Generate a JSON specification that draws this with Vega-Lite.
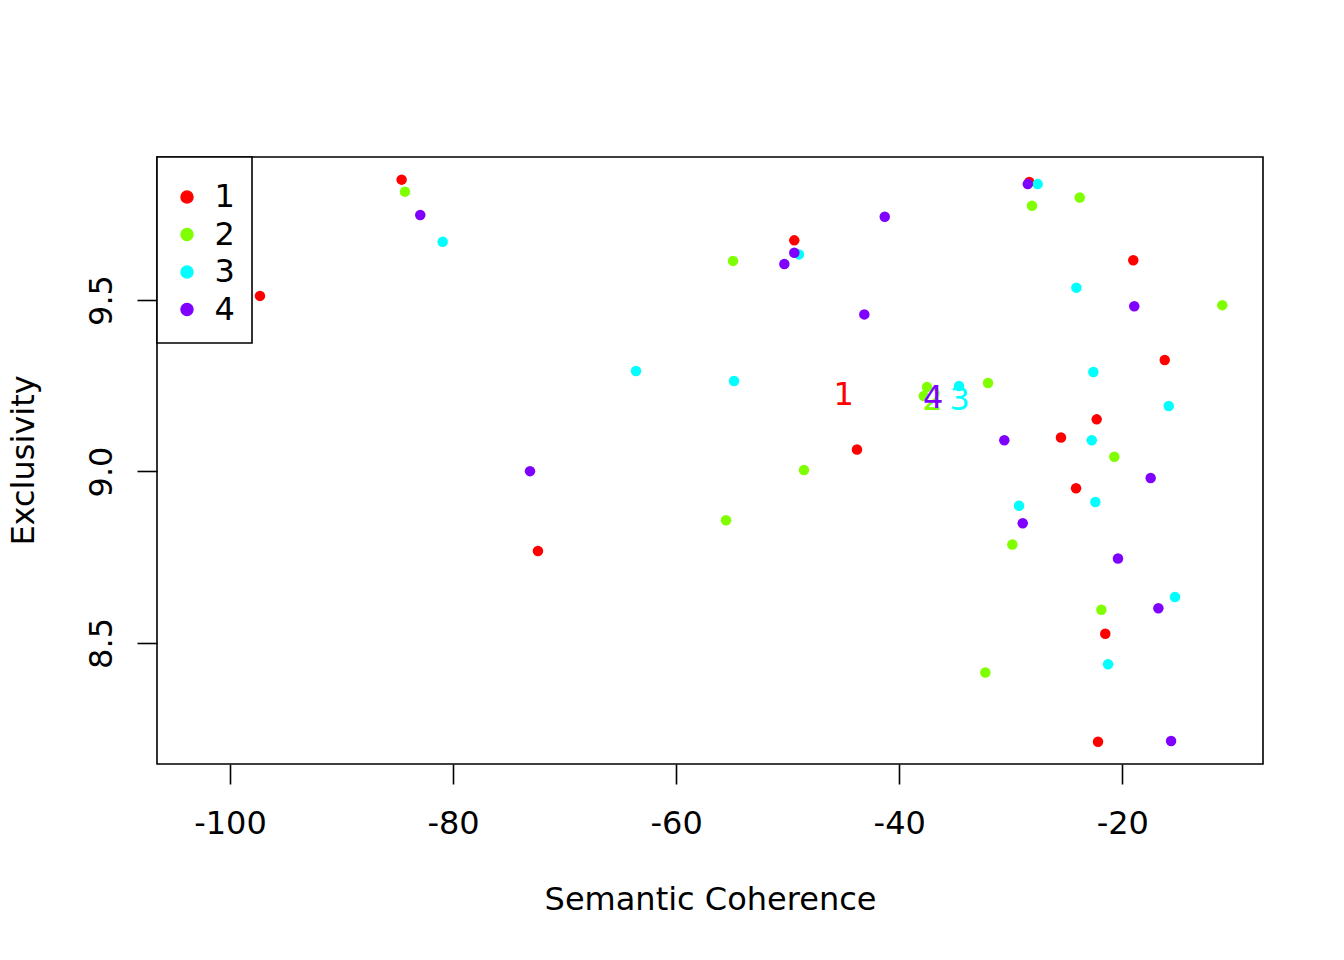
{
  "$schema": "https://vega.github.io/schema/vega-lite/v6.json",
  "width": 1106,
  "height": 607,
  "autosize": {"type": "none"},
  "padding": {"left": 157, "top": 157, "right": 81, "bottom": 196},
  "background": "white",
  "config": {
    "view": {"stroke": "black", "strokeWidth": 1.6},
    "font": "DejaVu Sans",
    "axis": {
      "grid": false, "domain": false, "tickColor": "black", "tickWidth": 1.6, "tickSize": 20,
      "labelColor": "black", "titleColor": "black", "labelFont": "DejaVu Sans", "titleFont": "DejaVu Sans",
      "labelFontSize": 32, "titleFontSize": 32, "titleFontWeight": "normal"
    }
  },
  "data": {
    "values": [
      {"model": "1", "sc": -102.87, "ex": 9.53},
      {"model": "1", "sc": -97.31, "ex": 9.512},
      {"model": "1", "sc": -84.61, "ex": 9.851},
      {"model": "1", "sc": -72.39, "ex": 8.768},
      {"model": "1", "sc": -49.41, "ex": 9.674},
      {"model": "1", "sc": -43.79, "ex": 9.064},
      {"model": "1", "sc": -28.34, "ex": 9.844},
      {"model": "1", "sc": -19.02, "ex": 9.616},
      {"model": "1", "sc": -16.2, "ex": 9.325},
      {"model": "1", "sc": -22.3, "ex": 9.152},
      {"model": "1", "sc": -25.5, "ex": 9.099},
      {"model": "1", "sc": -24.15, "ex": 8.951},
      {"model": "1", "sc": -21.53, "ex": 8.527},
      {"model": "1", "sc": -22.18, "ex": 8.212},
      {"model": "2", "sc": -84.31, "ex": 9.816},
      {"model": "2", "sc": -54.9, "ex": 9.614},
      {"model": "2", "sc": -55.53, "ex": 8.858},
      {"model": "2", "sc": -48.54, "ex": 9.004},
      {"model": "2", "sc": -37.51, "ex": 9.246},
      {"model": "2", "sc": -37.8, "ex": 9.22},
      {"model": "2", "sc": -32.04, "ex": 9.258},
      {"model": "2", "sc": -28.1, "ex": 9.775},
      {"model": "2", "sc": -23.82, "ex": 9.799},
      {"model": "2", "sc": -11.04, "ex": 9.485},
      {"model": "2", "sc": -20.72, "ex": 9.043},
      {"model": "2", "sc": -29.86, "ex": 8.787},
      {"model": "2", "sc": -21.88, "ex": 8.597},
      {"model": "2", "sc": -32.28, "ex": 8.414},
      {"model": "3", "sc": -80.93, "ex": 9.67},
      {"model": "3", "sc": -63.6, "ex": 9.293},
      {"model": "3", "sc": -54.81, "ex": 9.264},
      {"model": "3", "sc": -48.99, "ex": 9.633},
      {"model": "3", "sc": -34.64, "ex": 9.249},
      {"model": "3", "sc": -27.59, "ex": 9.838},
      {"model": "3", "sc": -24.12, "ex": 9.536},
      {"model": "3", "sc": -22.6, "ex": 9.29},
      {"model": "3", "sc": -15.84, "ex": 9.191},
      {"model": "3", "sc": -22.74, "ex": 9.091},
      {"model": "3", "sc": -22.42, "ex": 8.911},
      {"model": "3", "sc": -29.26, "ex": 8.9},
      {"model": "3", "sc": -15.28, "ex": 8.634},
      {"model": "3", "sc": -21.28, "ex": 8.438},
      {"model": "4", "sc": -82.94, "ex": 9.748},
      {"model": "4", "sc": -73.1, "ex": 9.001},
      {"model": "4", "sc": -50.3, "ex": 9.605},
      {"model": "4", "sc": -49.41, "ex": 9.638},
      {"model": "4", "sc": -43.13, "ex": 9.458},
      {"model": "4", "sc": -41.3, "ex": 9.743},
      {"model": "4", "sc": -28.48, "ex": 9.838},
      {"model": "4", "sc": -30.58, "ex": 9.091},
      {"model": "4", "sc": -28.93, "ex": 8.849},
      {"model": "4", "sc": -18.93, "ex": 9.482},
      {"model": "4", "sc": -17.46, "ex": 8.981},
      {"model": "4", "sc": -20.39, "ex": 8.746},
      {"model": "4", "sc": -16.77, "ex": 8.601},
      {"model": "4", "sc": -15.63, "ex": 8.214}
    ]
  },
  "encoding": {
    "x": {
      "field": "sc", "type": "quantitative",
      "scale": {"domain": [-106.54, -7.39], "nice": false, "zero": false},
      "axis": {
        "title": "Semantic Coherence", "values": [-100, -80, -60, -40, -20],
        "labelExpr": "toString(datum.value)", "labelPadding": 24, "labelFlush": false, "labelOverlap": false,
        "titleX": 553, "titleY": 135, "titleBaseline": "middle", "titleAlign": "center"
      }
    },
    "y": {
      "field": "ex", "type": "quantitative",
      "scale": {"domain": [8.147, 9.917], "nice": false, "zero": false},
      "axis": {
        "title": "Exclusivity", "values": [8.5, 9.0, 9.5], "format": ".1f",
        "labelAngle": -90, "labelAlign": "center", "labelBaseline": "alphabetic", "labelPadding": 26,
        "titleAngle": -90, "titleX": -134, "titleY": 303, "titleBaseline": "middle", "titleAlign": "center"
      }
    }
  },
  "layer": [
    {
      "mark": {"type": "circle", "opacity": 1, "size": 110},
      "encoding": {
        "color": {
          "field": "model", "type": "nominal",
          "scale": {"domain": ["1", "2", "3", "4"], "range": ["#FF0000", "#80FF00", "#00FFFF", "#8000FF"]},
          "legend": {
            "title": " ", "titleFontSize": 2, "titlePadding": 5,
            "orient": "top-left", "offset": 0,
            "fillColor": "white", "strokeColor": "black", "padding": 17,
            "symbolType": "circle", "symbolSize": 150, "symbolOffset": -3, "symbolOpacity": 1,
            "labelFontSize": 32, "labelFont": "DejaVu Sans", "labelColor": "black", "labelOffset": 11.5, "rowPadding": 5.5,
            "encode": {
              "legend": {"update": {"strokeWidth": {"value": 1.6}}},
              "symbols": {"update": {
                "size": {"value": 150},
                "stroke": {"scale": "color", "field": "value"},
                "strokeWidth": {"value": 1.2}
              }}
            }
          }
        }
      }
    },
    {
      "transform": [
        {"aggregate": [{"op": "mean", "field": "sc", "as": "sc"}, {"op": "mean", "field": "ex", "as": "ex"}], "groupby": ["model"]}
      ],
      "mark": {"type": "text", "fontSize": 32, "font": "DejaVu Sans", "align": "center", "baseline": "middle"},
      "encoding": {
        "text": {"field": "model"},
        "fill": {
          "field": "model", "type": "nominal",
          "scale": {"domain": ["1", "2", "3", "4"], "range": ["#FF0000", "#80FF00", "#00FFFF", "#8000FF"]},
          "legend": null
        }
      }
    }
  ]
}
